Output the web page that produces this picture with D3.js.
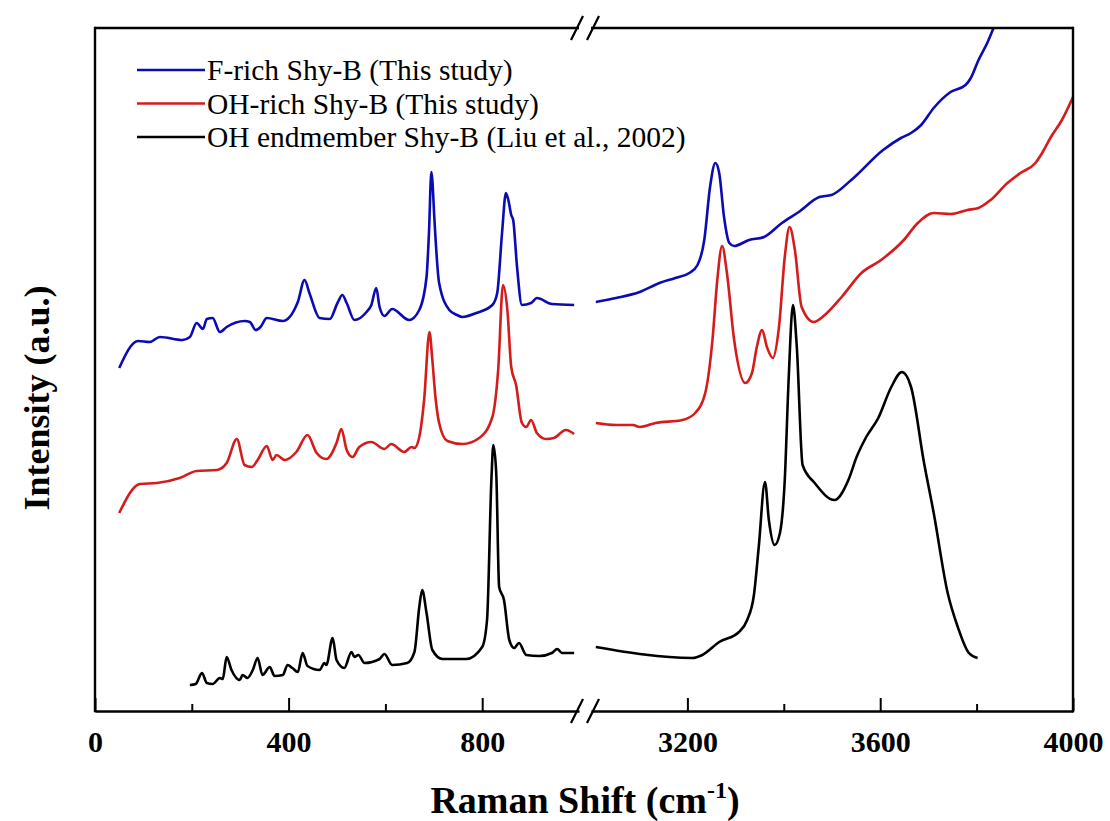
<!DOCTYPE html>
<html>
<head>
<meta charset="utf-8">
<script src="https://cdn.jsdelivr.net/npm/d3@7"></script>
<style>
  body { margin: 0; background: #fff; }
  svg text { font-family: "Liberation Serif", "Times New Roman", serif; }
</style>
</head>
<body>
<svg id="myGraph"></svg>
<script>
var width = 1110;
var height = 821;

// Raman shift (cm-1), intensity (a.u., offset as in the figure)
var fRichLow = [[50,340],[89,367],[113,366],[134,371],[181,368],[196,371],[210,385],[223,379],[231,389],[243,390],[258,376],[272,381],[309,387],[320,386],[332,378],[342,381],[355,390],[388,387],[419,406],[433,428],[443,415],[464,390],[485,389],[501,405],[511,413],[520,405],[536,388],[561,396],[571,403],[581,420],[588,401],[598,392],[614,399],[649,388],[670,398],[685,431],[690,475],[695,536],[697,528],[701,491],[711,425],[732,398],[748,393],[759,391],[788,395],[821,403],[831,415],[841,475],[849,515],[854,508],[860,493],[864,488],[872,441],[882,403],[901,405],[913,410],[944,404],[990,403]];
var fRichHigh = [[3010,406],[3052,410],[3101,416],[3142,425],[3175,430],[3204,435],[3221,443],[3235,468],[3247,521],[3258,545],[3266,535],[3276,491],[3287,465],[3297,462],[3328,468],[3359,471],[3396,485],[3431,496],[3474,511],[3499,513],[3540,528],[3606,558],[3643,570],[3664,575],[3685,583],[3711,600],[3746,616],[3777,623],[3788,630],[3804,648],[3823,666],[3835,680],[3850,700]];

var ohRichLow = [[50,195],[93,224],[128,225],[175,230],[210,237],[252,238],[272,245],[293,269],[309,243],[324,241],[336,248],[355,262],[367,248],[375,253],[392,248],[416,256],[439,273],[458,255],[478,249],[499,265],[509,279],[520,258],[532,251],[546,261],[571,266],[598,259],[612,264],[639,256],[654,261],[660,260],[670,271],[680,308],[691,376],[697,348],[703,313],[711,285],[728,267],[759,264],[794,270],[821,291],[833,338],[843,423],[852,398],[860,341],[870,323],[882,285],[891,281],[901,288],[913,275],[932,269],[948,270],[973,278],[990,274]];
var ohRichHigh = [[3010,285],[3052,283],[3087,283],[3101,281],[3134,285],[3190,288],[3216,295],[3237,315],[3252,368],[3262,428],[3272,462],[3282,435],[3297,368],[3320,325],[3334,335],[3344,361],[3355,378],[3365,361],[3377,350],[3390,381],[3402,451],[3412,481],[3423,458],[3437,401],[3462,386],[3485,393],[3520,411],[3561,435],[3602,448],[3649,468],[3678,485],[3711,495],[3746,494],[3781,498],[3804,500],[3829,508],[3864,525],[3891,535],[3922,545],[3936,555],[3953,570],[3977,588],[4000,611]];

var ohEndLow = [[196,23],[208,24],[221,35],[231,25],[243,24],[258,30],[264,29],[272,51],[282,38],[299,28],[305,33],[315,30],[326,38],[336,50],[346,33],[361,41],[371,32],[388,33],[398,43],[408,40],[419,36],[429,55],[439,42],[464,38],[474,45],[478,43],[491,70],[499,48],[515,40],[530,56],[536,51],[544,53],[557,45],[588,49],[598,54],[614,43],[645,45],[660,56],[670,101],[676,118],[685,95],[697,58],[718,49],[767,49],[800,61],[810,88],[819,228],[823,263],[829,235],[835,121],[845,108],[856,68],[866,60],[876,65],[891,53],[918,52],[944,55],[955,59],[965,55],[990,55]];
var ohEndHigh = [[3010,61],[3210,50],[3231,53],[3266,66],[3307,76],[3324,88],[3338,113],[3348,161],[3361,226],[3369,188],[3381,163],[3392,175],[3402,228],[3410,328],[3419,403],[3427,361],[3439,243],[3464,225],[3505,208],[3534,228],[3551,251],[3571,271],[3596,290],[3623,321],[3645,336],[3664,321],[3691,245],[3711,195],[3740,115],[3761,81],[3784,55],[3802,50]];

var seriesNames = ["F-rich Shy-B (This study)", "OH-rich Shy-B (This study)", "OH endmember Shy-B (Liu et al., 2002)"];
var seriesColors = ["#0b0bb4", "#d41c1c", "#000000"];
var lowData = [fRichLow, ohRichLow, ohEndLow];
var highData = [fRichHigh, ohRichHigh, ohEndHigh];

var lowTicks = [0, 200, 400, 600, 800];
var highTicks = [3200, 3400, 3600, 3800, 4000];

var serif = "'Liberation Serif', 'Times New Roman', serif";
var pLeft = 95, pRight = 1073, pTop = 28, pBottom = 711;

var svg = d3.select("#myGraph")
    .attr("width", width)
    .attr("height", height);

var xLow = d3.scaleLinear().domain([0, 1000]).range([pLeft, 579]);
var xHigh = d3.scaleLinear().domain([3000, 4000]).range([591, pRight]);
var y = d3.scaleLinear().domain([-3, 680]).range([pBottom, pTop]);

svg.append("clipPath").attr("id", "plotClip")
    .append("rect")
    .attr("x", pLeft).attr("y", pTop)
    .attr("width", pRight - pLeft).attr("height", pBottom - pTop);

var plot = svg.append("g").attr("clip-path", "url(#plotClip)");

function drawSegments(data, xs) {
    var line = d3.line()
        .x(function(d){ return xs(d[0]); })
        .y(function(d){ return y(d[1]); })
        .curve(d3.curveMonotoneX);
    plot.selectAll(null)
        .data(data)
        .enter().append("path")
        .attr("d", line)
        .attr("fill", "none")
        .attr("stroke", function(d, i){ return seriesColors[i]; })
        .attr("stroke-width", 2.6)
        .attr("stroke-linejoin", "round");
}
drawSegments(lowData, xLow);
drawSegments(highData, xHigh);

// frame
var frame = svg.append("g").attr("stroke", "#000").attr("stroke-width", 2.4).attr("fill", "none");
frame.append("line").attr("x1", pLeft).attr("x2", pLeft).attr("y1", pTop - 1.2).attr("y2", pBottom + 1.2);
frame.append("line").attr("x1", pRight).attr("x2", pRight).attr("y1", pTop - 1.2).attr("y2", pBottom + 1.2);
frame.append("line").attr("x1", pLeft).attr("x2", xLow(1000)).attr("y1", pTop).attr("y2", pTop);
frame.append("line").attr("x1", xHigh(3000)).attr("x2", pRight).attr("y1", pTop).attr("y2", pTop);

function makeAxis(xs, ticks, labelled) {
    var g = svg.append("g")
        .attr("transform", "translate(0," + pBottom + ")")
        .call(d3.axisBottom(xs)
            .tickValues(ticks)
            .tickSizeInner(-13)
            .tickSizeOuter(0)
            .tickPadding(20)
            .tickFormat(function(d){ return labelled.indexOf(d) >= 0 ? d : ""; }));
    g.select(".domain").attr("stroke-width", 2.4);
    g.selectAll(".tick line")
        .attr("stroke-width", 2)
        .attr("y2", function(d){ return labelled.indexOf(d) >= 0 ? -13 : -7; });
    g.selectAll(".tick text")
        .attr("fill", "#000")
        .style("font-family", serif)
        .style("font-weight", "bold")
        .style("font-size", "30px");
    return g;
}
makeAxis(xLow, lowTicks, [0, 400, 800]);
makeAxis(xHigh, highTicks, [3200, 3600, 4000]);

// axis break marks
var breaks = [xLow(1000) - 2, xHigh(3000) + 2];
[pTop, pBottom].forEach(function(yy){
    breaks.forEach(function(bx){
        svg.append("line")
            .attr("x1", bx - 6).attr("y1", yy + 12)
            .attr("x2", bx + 6).attr("y2", yy - 12)
            .attr("stroke", "#000").attr("stroke-width", 2.2);
    });
});

// legend
var legend = svg.append("g");
seriesNames.forEach(function(name, i){
    var ly = 70 + i * 33.5;
    legend.append("line")
        .attr("x1", 137).attr("x2", 205)
        .attr("y1", ly).attr("y2", ly)
        .attr("stroke", seriesColors[i]).attr("stroke-width", 2.6);
    legend.append("text")
        .attr("x", 207).attr("y", ly)
        .attr("dy", "0.35em")
        .style("font-family", serif)
        .style("font-size", "29.5px")
        .text(name);
});

// axis titles
var xTitle = svg.append("text")
    .attr("x", 585).attr("y", 813)
    .attr("text-anchor", "middle")
    .style("font-family", serif)
    .style("font-size", "38px")
    .style("font-weight", "bold");
xTitle.append("tspan").text("Raman Shift (cm");
xTitle.append("tspan").attr("dy", -15).style("font-size", "24px").text("-1");
xTitle.append("tspan").attr("dy", 15).text(")");

svg.append("text")
    .attr("transform", "translate(49,398) rotate(-90)")
    .attr("text-anchor", "middle")
    .style("font-family", serif)
    .style("font-size", "36px")
    .style("font-weight", "bold")
    .text("Intensity (a.u.)");
</script>
</body>
</html>
